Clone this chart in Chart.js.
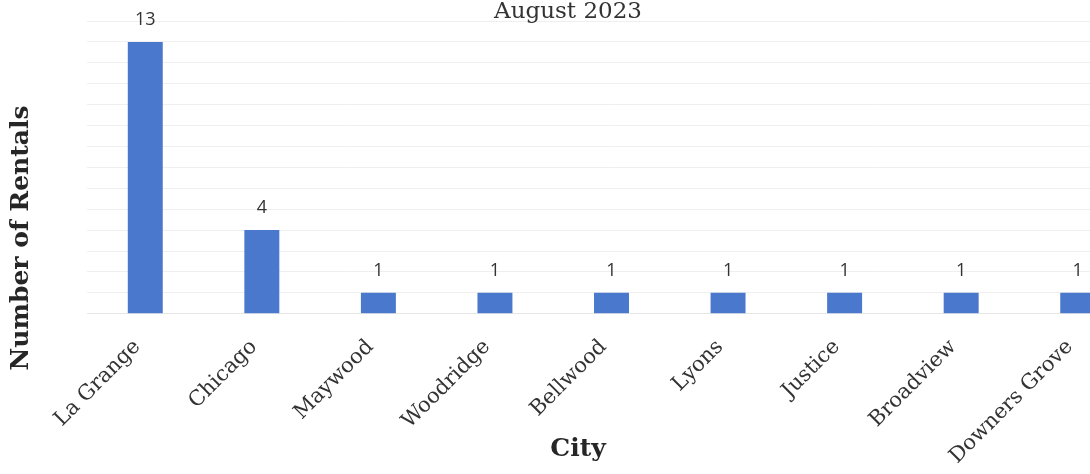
<!DOCTYPE html>
<html>
<head>
<meta charset="utf-8">
<script src="https://cdn.jsdelivr.net/npm/chart.js@4.4.0/dist/chart.umd.min.js"></script>
<style>
  html, body { margin: 0; padding: 0; background: #fff; overflow: hidden; }
  #wrap { position: relative; width: 1138px; height: 474px; }
</style>
</head>
<body>
<div id="wrap"><canvas id="rentalChart"></canvas></div>
<script>
// chart data
const cities = ['La Grange', 'Chicago', 'Maywood', 'Woodridge', 'Bellwood', 'Lyons', 'Justice', 'Broadview', 'Downers Grove'];
const rentals = [13, 4, 1, 1, 1, 1, 1, 1, 1];
const chartTitle = 'August 2023';
const xTitle = 'City';
const yTitle = 'Number of Rentals';

// value labels above bars + titles placed like the original
const extras = {
    id: 'extras',
    afterDatasetsDraw(chart) {
        const ctx = chart.ctx;
        const meta = chart.getDatasetMeta(0);
        ctx.save();
        ctx.fillStyle = '#333';
        ctx.font = '18px "Open Sans", sans-serif';
        ctx.textAlign = 'center';
        ctx.textBaseline = 'bottom';
        meta.data.forEach((bar, i) => {
            ctx.fillText(rentals[i], bar.x, bar.y - 13);
        });
        ctx.restore();
    },
    afterDraw(chart) {
        const ctx = chart.ctx;
        ctx.save();
        ctx.fillStyle = '#333';
        ctx.textAlign = 'center';
        ctx.font = '23px "DejaVu Serif", serif';
        ctx.textBaseline = 'alphabetic';
        ctx.fillText(chartTitle, 568, 18);
        ctx.fillStyle = '#262626';
        ctx.font = 'bold 25px "DejaVu Serif", serif';
        ctx.textBaseline = 'middle';
        ctx.fillText(xTitle, 578, 449);
        ctx.translate(21, 238);
        ctx.rotate(-Math.PI / 2);
        ctx.fillText(yTitle, 0, 0);
        ctx.restore();
    }
};

const ctx = document.getElementById('rentalChart').getContext('2d');
const rentalChart = new Chart(ctx, {
    type: 'bar',
    data: {
        labels: cities,
        datasets: [{
            label: 'Rentals',
            data: rentals,
            backgroundColor: '#4a78cc',
            barPercentage: 0.3,
            categoryPercentage: 1.0
        }]
    },
    options: {
        responsive: true,
        maintainAspectRatio: false,
        animation: false,
        layout: { padding: { left: 87, right: 2, top: 21, bottom: -8 } },
        plugins: {
            legend: { display: false },
            tooltip: { enabled: false },
            title: { display: false }
        },
        scales: {
            x: {
                grid: { display: false },
                border: { color: '#e6e6e6' },
                ticks: {
                    color: '#333',
                    font: { family: '"DejaVu Serif", serif', size: 21 },
                    maxRotation: 45,
                    minRotation: 45,
                    padding: 13,
                    labelOffset: -8
                }
            },
            y: {
                min: 0,
                max: 14,
                ticks: { display: false, stepSize: 1 },
                border: { display: false },
                grid: { color: '#efefef', drawTicks: false }
            }
        }
    },
    plugins: [extras]
});
</script>
</body>
</html>
